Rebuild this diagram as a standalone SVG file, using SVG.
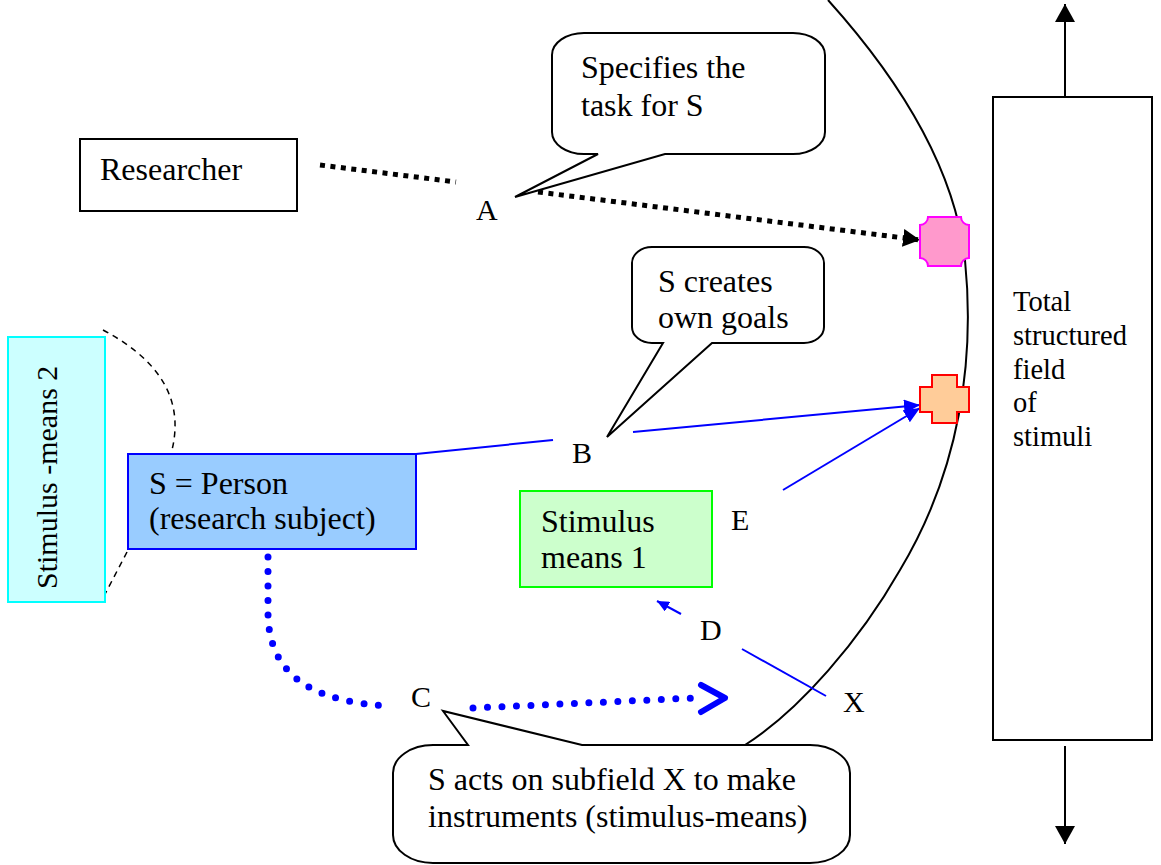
<svg xmlns="http://www.w3.org/2000/svg" width="1161" height="865" viewBox="0 0 1161 865">
<style>
text{font-family:"Liberation Serif","Times New Roman",serif;fill:#000}
.t{font-size:32px}
.lbl{font-size:30px}
.sm{font-size:28.5px}
.bubble{fill:#fff;stroke:#000;stroke-width:2}
.blue{fill:none;stroke:#0000FF;stroke-width:2}
.dotb{fill:none;stroke:#0000FF;stroke-width:7;stroke-linecap:round;stroke-dasharray:0 14.5}
.dotk{fill:none;stroke:#000;stroke-width:5;stroke-dasharray:5 5.5}
</style>
<defs>
<marker id="ak" markerUnits="userSpaceOnUse" markerWidth="18" markerHeight="18" refX="17" refY="9" orient="auto"><path d="M0,0 L17,9 L0,18 Z" fill="#000"/></marker>
<marker id="ab" markerUnits="userSpaceOnUse" markerWidth="17" markerHeight="14" refX="16" refY="7" orient="auto"><path d="M0,0 L16,7 L0,14 Z" fill="#0000FF"/></marker>
<marker id="abs" markerUnits="userSpaceOnUse" markerWidth="13" markerHeight="11" refX="12" refY="5.5" orient="auto"><path d="M0,0 L12,5.5 L0,11 Z" fill="#0000FF"/></marker>
<marker id="ak2" markerUnits="userSpaceOnUse" markerWidth="20" markerHeight="20" refX="18" refY="10" orient="auto"><path d="M0,0 L18,10 L0,20 Z" fill="#000"/></marker>
</defs>

<!-- big arc (field boundary) -->
<path d="M828,0 C900,80 955,170 965,260 C975,360 960,470 900,570 C860,640 800,710 745,745" fill="none" stroke="#000" stroke-width="2"/>

<g id="connectors">
  <!-- A: researcher to target -->
  <line class="dotk" x1="320" y1="165" x2="456" y2="182"/>
  <line class="dotk" x1="538" y1="192" x2="920" y2="240" marker-end="url(#ak)"/>
  <!-- B -->
  <line class="blue" x1="416" y1="454" x2="553" y2="440"/>
  <line class="blue" x1="633" y1="432" x2="920" y2="405" marker-end="url(#ab)"/>
  <!-- E -->
  <line class="blue" x1="783" y1="490" x2="920" y2="408" marker-end="url(#ab)"/>
  <!-- D -->
  <line class="blue" x1="681" y1="614" x2="657" y2="601" marker-end="url(#abs)"/>
  <line class="blue" x1="742" y1="649" x2="826" y2="696"/>
  <!-- C dotted -->
  <path class="dotb" d="M268,557 L268,612 C268,680 320,703 392,706"/>
  <path class="dotb" d="M473,708 L695,698"/>
  <path d="M701,685 L725,698 L701,712" fill="none" stroke="#0000FF" stroke-width="6" stroke-linecap="round" stroke-linejoin="round"/>
  <!-- dashed curves around stimulus-means 2 -->
  <path d="M103,330 C150,355 186,392 172,450" fill="none" stroke="#000" stroke-width="1.5" stroke-dasharray="6 5"/>
  <path d="M127,552 L103,598" fill="none" stroke="#000" stroke-width="1.5" stroke-dasharray="6 5"/>
  <!-- vertical arrows of field -->
  <line x1="1065" y1="97" x2="1065" y2="4" stroke="#000" stroke-width="2" marker-end="url(#ak2)"/>
  <line x1="1065" y1="746" x2="1065" y2="844" stroke="#000" stroke-width="2" marker-end="url(#ak2)"/>
</g>

<g id="researcher">
  <rect x="80" y="139" width="217" height="72" fill="#fff" stroke="#000" stroke-width="2"/>
  <text class="t" x="100" y="180">Researcher</text>
</g>

<g id="bubbleA">
  <path class="bubble" d="M584,33 H793 A32,22 0 0 1 825,55 V132 A32,22 0 0 1 793,154 H665 L515,197 L598,154 H584 A32,22 0 0 1 552,132 V55 A32,22 0 0 1 584,33 Z"/>
  <text class="t" x="581" y="78">Specifies the</text>
  <text class="t" x="581" y="116">task for S</text>
</g>

<g id="bubbleB">
  <path class="bubble" d="M652,247 H804 A20,16 0 0 1 824,263 V327 A20,16 0 0 1 804,343 H712 L607,437 L663,343 H652 A20,16 0 0 1 632,327 V263 A20,16 0 0 1 652,247 Z"/>
  <text class="t" x="658" y="292">S creates</text>
  <text class="t" x="658" y="328">own goals</text>
</g>

<g id="bubbleC">
  <path class="bubble" d="M433,745 H468 L443,711 L582,745 H810 A40,28 0 0 1 850,773 V835 A40,28 0 0 1 810,863 H433 A40,28 0 0 1 393,835 V773 A40,28 0 0 1 433,745 Z"/>
  <text class="t" x="428" y="790">S acts on subfield X to make</text>
  <text class="t" x="428" y="827">instruments (stimulus-means)</text>
</g>

<g id="target-goal">
  <path d="M928,217 H961 A8,8 0 0 0 969,225 V258 A8,8 0 0 0 961,266 H928 A8,8 0 0 0 920,258 V225 A8,8 0 0 0 928,217 Z" fill="#FF99CC" stroke="#FF00FF" stroke-width="2"/>
</g>

<g id="own-goal">
  <path d="M932,375 H957 V387 H969 V412 H957 V423 H932 V412 H920 V387 H932 Z" fill="#FFCC99" stroke="#FF0000" stroke-width="2"/>
</g>

<g id="stimulus-means-2">
  <rect x="8" y="337" width="97" height="265" fill="#CCFFFF" stroke="#00FFFF" stroke-width="2"/>
  <text class="lbl" font-size="29.5" transform="translate(57,589) rotate(-90)">Stimulus -means 2</text>
</g>

<g id="person">
  <rect x="128" y="454" width="288" height="95" fill="#99CCFF" stroke="#0000FF" stroke-width="2"/>
  <text class="t" x="149" y="494">S = Person</text>
  <text class="t" x="149" y="529">(research subject)</text>
</g>

<g id="stimulus-means-1">
  <rect x="520" y="491" width="192" height="96" fill="#CCFFCC" stroke="#00FF00" stroke-width="2"/>
  <text class="t" x="541" y="532">Stimulus</text>
  <text class="t" x="541" y="568">means 1</text>
</g>

<g id="field">
  <rect x="993" y="97" width="159" height="643" fill="#fff" stroke="#000" stroke-width="2"/>
  <text class="sm" x="1013" y="311">Total</text>
  <text class="sm" x="1013" y="345">structured</text>
  <text class="sm" x="1013" y="379">field</text>
  <text class="sm" x="1013" y="412">of</text>
  <text class="sm" x="1013" y="446">stimuli</text>
</g>

<g id="labels">
  <text class="lbl" x="476" y="220">A</text>
  <text class="lbl" x="572" y="463">B</text>
  <text class="lbl" x="411" y="707">C</text>
  <text class="lbl" x="700" y="640">D</text>
  <text class="lbl" x="731" y="530">E</text>
  <text class="lbl" x="843" y="712">X</text>
</g>
</svg>
